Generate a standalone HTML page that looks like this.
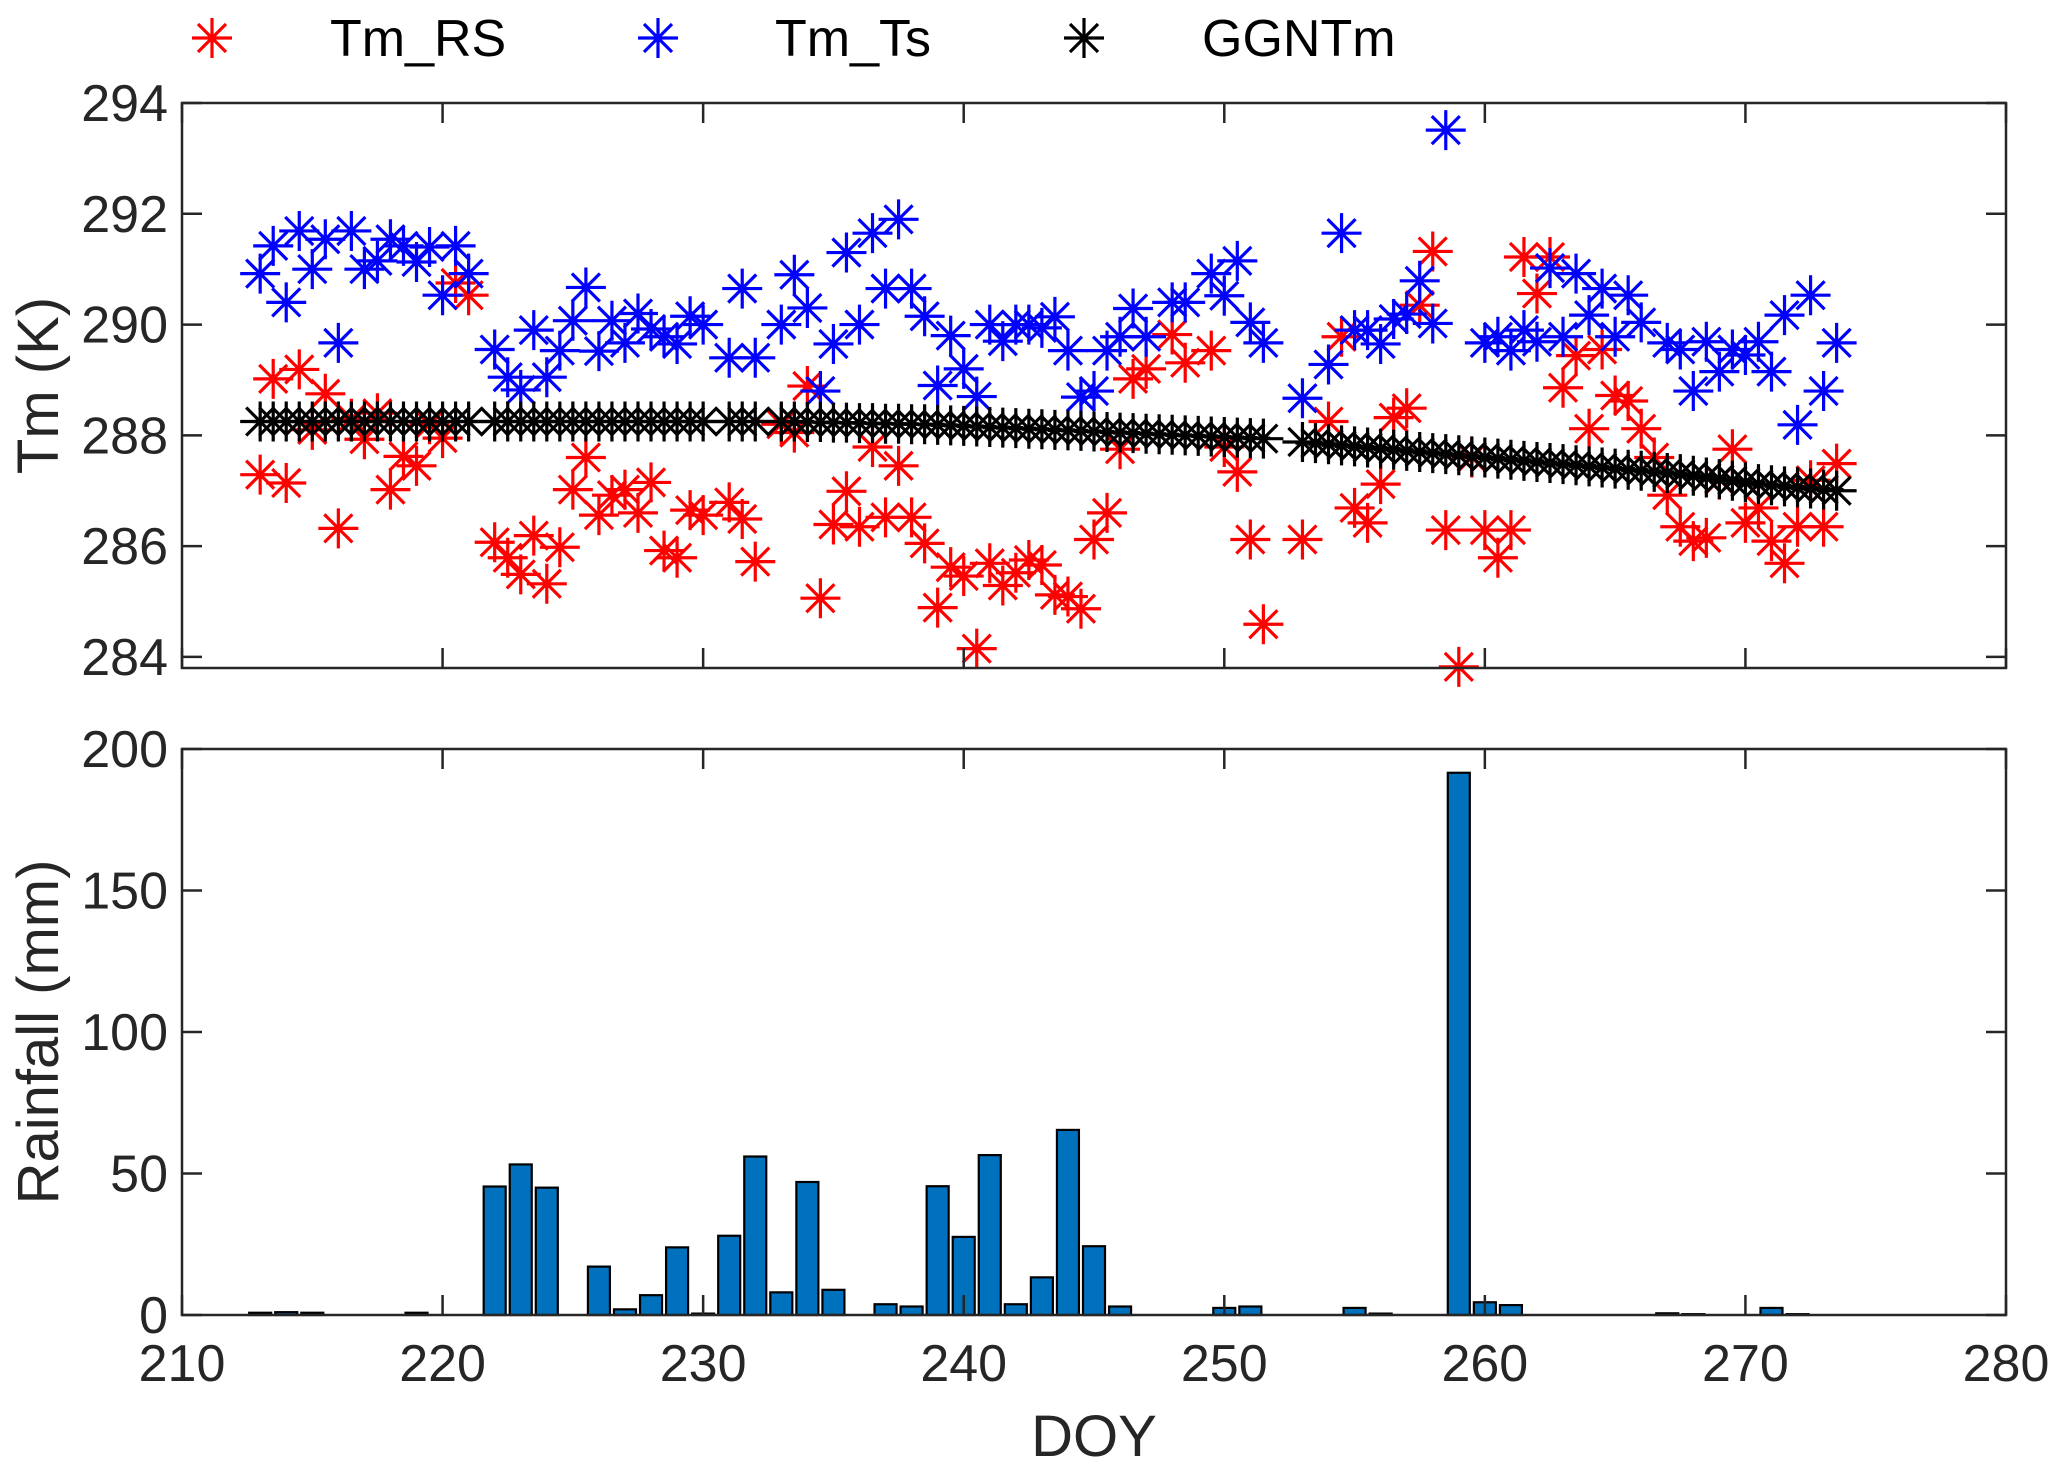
<!DOCTYPE html>
<html><head><meta charset="utf-8"><style>
html,body{margin:0;padding:0;background:#fff;}
svg text{font-family:"Liberation Sans",Arial,sans-serif;}
</style></head><body>
<svg id="chart" width="2067" height="1475" viewBox="0 0 2067 1475" xmlns="http://www.w3.org/2000/svg">
<rect width="2067" height="1475" fill="#fff"/>
<g id="legendG"></g>
<g id="topG"></g>
<g id="botG"></g>
</svg>
<script>
const tmStartDoy = 213;
const tmStep = 0.5;
const tmRS = [287.29,289.02,287.14,289.19,288.1,288.75,286.32,288.3,287.93,288.4,
287.02,287.62,287.45,288.2,287.95,290.75,290.53,null,286.07,285.79,
285.49,286.19,285.32,285.98,287.02,287.6,286.56,286.92,287.02,286.6,
287.15,285.92,285.79,286.65,286.56,null,286.79,286.49,285.72,null,
288.2,288.05,288.89,285.06,286.39,286.99,286.35,287.79,286.52,287.45,
286.52,286.05,284.89,285.62,285.46,284.15,285.69,285.29,285.52,285.75,
285.66,285.12,285.09,284.87,286.12,286.6,287.75,289.02,289.2,null,
289.82,289.31,null,289.53,287.79,287.34,286.12,284.59,null,null,
286.12,null,288.25,289.78,286.69,286.42,287.12,288.32,288.49,290.35,
291.32,286.29,283.82,287.6,286.29,285.79,286.29,291.22,290.56,291.22,
288.86,289.44,288.12,289.55,288.72,288.62,288.12,287.6,286.92,286.35,
286.09,286.15,287.2,287.75,286.42,286.69,286.09,285.69,286.35,287.19,
286.35,287.49];
const tmTs = [290.92,291.42,290.4,291.69,291.0,291.54,289.67,291.69,291.0,291.15,
291.54,291.42,291.13,291.4,290.53,291.42,290.92,null,289.55,289.05,
288.82,289.9,289.05,289.53,290.07,290.67,289.52,290.07,289.67,290.2,
289.92,289.78,289.65,290.15,290.0,null,289.4,290.65,289.4,null,
290.0,290.9,290.3,288.8,289.65,291.3,290.0,291.65,290.65,291.9,
290.65,290.15,288.9,289.8,289.2,288.7,290.0,289.7,290.0,290.0,
289.94,290.14,289.53,288.69,288.8,289.53,289.78,290.29,289.78,null,
290.4,290.4,null,290.92,290.52,291.15,290.04,289.67,null,null,
288.67,null,289.28,291.65,289.9,289.9,289.65,290.1,290.19,290.79,
290.02,293.51,null,null,289.67,289.78,289.53,289.9,289.69,291.02,
289.78,290.92,290.17,290.65,289.78,290.53,290.04,null,289.67,289.55,
288.8,289.69,289.15,289.55,289.45,289.69,289.15,290.17,288.19,290.53,
288.8,289.67];
const ggnTm = [288.25,288.25,288.25,288.25,288.25,288.25,288.25,288.25,288.25,288.25,
288.25,288.25,288.25,288.25,288.25,288.25,288.25,null,288.25,288.25,
288.25,288.25,288.25,288.25,288.25,288.25,288.25,288.25,288.25,288.25,
288.25,288.25,288.25,288.25,288.25,null,288.25,288.25,288.25,null,
288.25,288.25,288.24,288.24,288.23,288.23,288.22,288.22,288.21,288.21,
288.2,288.2,288.19,288.18,288.17,288.16,288.15,288.14,288.13,288.12,
288.11,288.1,288.09,288.08,288.07,288.06,288.05,288.04,288.03,288.02,
288.01,288.0,287.99,287.98,287.97,287.96,287.95,287.94,null,null,
287.88,287.86,287.84,287.82,287.8,287.78,287.76,287.74,287.72,287.7,
287.68,287.66,287.64,287.62,287.6,287.58,287.56,287.54,287.52,287.5,
287.48,287.46,287.44,287.42,287.4,287.38,287.36,287.34,287.32,287.3,
287.27,287.24,287.21,287.18,287.15,287.12,287.1,287.08,287.06,287.04,
287.02,287.0];
const rainDoy = [213,214,215,219,222,223,224,226,227,228,229,230,231,232,233,234,235,237,238,239,240,241,242,243,244,245,246,250,251,255,256,259,260,261,267,268,271,272];
const rainMm = [0.8,1,0.8,0.8,45.4,53.2,45,17.1,2,7,23.9,0.5,28,56,8,47,8.9,3.8,3,45.5,27.6,56.5,3.8,13.3,65.4,24.3,3,2.5,3,2.5,0.5,191.6,4.5,3.5,0.6,0.3,2.5,0.3];
const xTicks = [210,220,230,240,250,260,270,280];
const tmTicks = [284,286,288,290,292,294];
const rainTicks = [0,50,100,150,200];

const NS = "http://www.w3.org/2000/svg";
const L = 182, R = 2006;
const T1 = 103, B1 = 668, T2 = 749, B2 = 1315;
const xs = d => L + (d - 210) / 70 * (R - L);
const y1 = v => B1 - (v - 283.8) / (294 - 283.8) * (B1 - T1);
const y2 = v => B2 - v / 200 * (B2 - T2);
const AX = "#262626";
function mk(tag, attrs, parent){const e=document.createElementNS(NS,tag);for(const k in attrs)e.setAttribute(k,attrs[k]);parent.appendChild(e);return e;}
function star(g,cx,cy,color,name){
  const s = mk('g',{},g);
  
  
  const a=20,d=14;
  mk('path',{d:`M${cx-a},${cy}H${cx+a}M${cx},${cy-a}V${cy+a}M${cx-d},${cy-d}L${cx+d},${cy+d}M${cx-d},${cy+d}L${cx+d},${cy-d}`,stroke:color,'stroke-width':3.2,fill:'none'},s);
}
const topG = document.getElementById('topG'), botG = document.getElementById('botG'), legG = document.getElementById('legendG');
const seriesList = [[tmRS,'#ff0000','tm-rs'],[tmTs,'#0000ff','tm-ts'],[ggnTm,'#000000','ggntm']];
seriesList.forEach(([arr,col,nm])=>{
  const g = mk('g',{},topG);
  
  
  arr.forEach((v,i)=>{ if(v!==null) star(g,xs(tmStartDoy+i*tmStep),y1(v),col,nm+'-point'); });
});
mk('rect',{x:L,y:T1,width:R-L,height:B1-T1,fill:'none',stroke:AX,'stroke-width':2.5},topG);
xTicks.forEach(t=>{const x=xs(t);mk('path',{d:`M${x},${B1}v-20M${x},${T1}v20`,stroke:AX,'stroke-width':2.5},topG);});
tmTicks.forEach(t=>{const y=y1(t);mk('path',{d:`M${L},${y}h20M${R},${y}h-20`,stroke:AX,'stroke-width':2.5},topG);
  const tx=mk('text',{x:L-14,y:y+18,'text-anchor':'end','font-size':52,fill:AX},topG);tx.textContent=t;
  
  });
const yl1 = mk('text',{x:0,y:0,transform:`translate(58,${(T1+B1)/2}) rotate(-90)`,'text-anchor':'middle','font-size':58,fill:AX},topG);
yl1.textContent='Tm (K)';


rainDoy.forEach((d,i)=>{
  const w=22,x=xs(d)-w/2,y=y2(rainMm[i]);
  const b=mk('rect',{x:x,y:y,width:w,height:Math.max(B2-y,0.5),fill:'#0072bd',stroke:'#000','stroke-width':2.2},botG);
  
  
});
mk('rect',{x:L,y:T2,width:R-L,height:B2-T2,fill:'none',stroke:AX,'stroke-width':2.5},botG);
xTicks.forEach(t=>{const x=xs(t);mk('path',{d:`M${x},${B2}v-20M${x},${T2}v20`,stroke:AX,'stroke-width':2.5},botG);
  const tx=mk('text',{x:x,y:B2+66,'text-anchor':'middle','font-size':52,fill:AX},botG);tx.textContent=t;
  
  });
rainTicks.forEach(t=>{const y=y2(t);mk('path',{d:`M${L},${y}h20M${R},${y}h-20`,stroke:AX,'stroke-width':2.5},botG);
  const tx=mk('text',{x:L-14,y:y+18,'text-anchor':'end','font-size':52,fill:AX},botG);tx.textContent=t;
  
  });
const yl2 = mk('text',{x:0,y:0,transform:`translate(58,${(T2+B2)/2}) rotate(-90)`,'text-anchor':'middle','font-size':58,fill:AX},botG);
yl2.textContent='Rainfall (mm)';


const xl = mk('text',{x:(L+R)/2,y:1456,'text-anchor':'middle','font-size':58,fill:AX},botG);
xl.textContent='DOY';


[['Tm_RS','#ff0000',212,330],['Tm_Ts','#0000ff',658,775],['GGNTm','#000000',1084,1202]].forEach(([lab,col,sx,tx])=>{
  star(legG,sx,38,col,'legend-marker');
  const t=mk('text',{x:tx,y:56,'font-size':52,fill:'#000'},legG);t.textContent=lab;
  
  
});
</script>
</body></html>
